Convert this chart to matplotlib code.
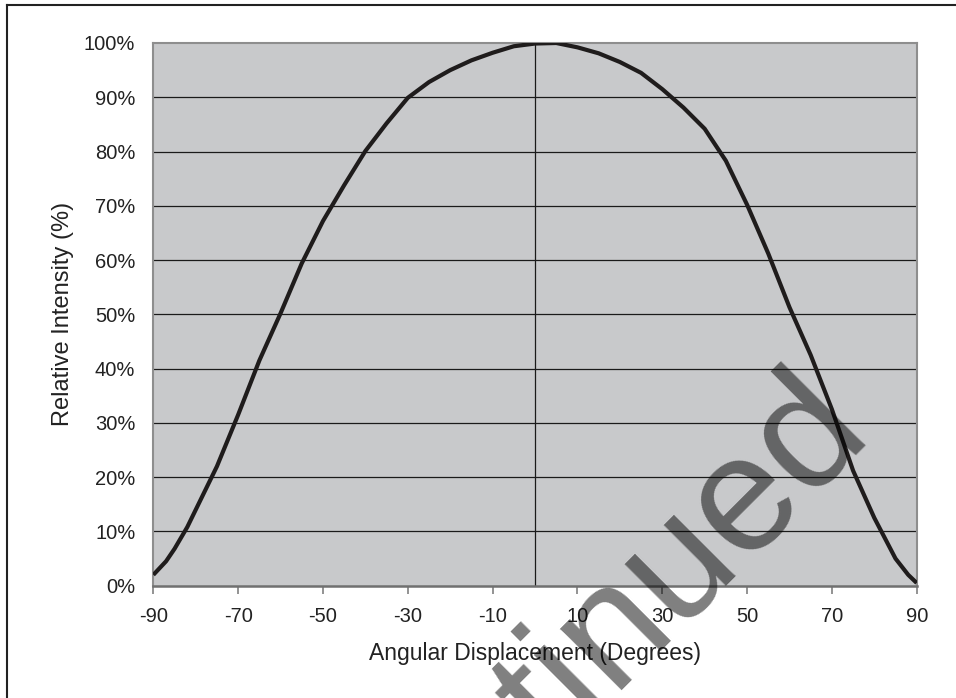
import matplotlib
matplotlib.use("Agg")
import matplotlib.pyplot as plt
from matplotlib.lines import Line2D

plt.rcParams['font.family'] = ['Liberation Sans', 'DejaVu Sans']

# angle (degrees) and relative intensity (%)
angle = [-90, -87, -85, -82, -80, -75, -70, -65, -60, -55, -50, -45, -40, -35,
         -30, -25, -20, -15, -10, -5, 0, 5, 10, 15, 20, 25, 30, 35, 40, 45,
         50, 55, 60, 65, 70, 75, 80, 85, 88, 90]
intensity = [2.0, 4.5, 6.8, 10.8, 14.0, 22.0, 31.5, 41.5, 50.2, 59.4, 67.2, 73.8,
             80.1, 85.2, 89.9, 92.8, 95.0, 96.8, 98.2, 99.4, 99.9, 100.0, 99.2,
             98.1, 96.5, 94.5, 91.5, 88.1, 84.2, 78.3, 70.2, 61.2, 51.3, 42.5,
             32.5, 21.2, 12.5, 5.0, 2.0, 0.5]

xticks = [-90, -70, -50, -30, -10, 10, 30, 50, 70, 90]
yticks = [0, 10, 20, 30, 40, 50, 60, 70, 80, 90, 100]
ytick_labels = ['%d%%' % v for v in yticks]

fig = plt.figure(figsize=(9.56, 6.98), dpi=100)
ax = fig.add_axes([0.1604, 0.1609, 0.7985, 0.7775])
ax.set_facecolor('#c8c9cb')

for v in yticks[1:-1]:
    ax.axhline(v, color='#1a1a1a', lw=0.9, zorder=1)
ax.axvline(0, color='#1a1a1a', lw=0.9, zorder=1)

ax.plot(angle, intensity, color='#1f1c1c', lw=3.0, zorder=3, solid_capstyle='butt')

ax.set_xlim(-90, 90)
ax.set_ylim(0, 100)
ax.set_xticks(xticks)
ax.set_xticklabels([str(v) for v in xticks])
ax.set_yticks(yticks)
ax.set_yticklabels(ytick_labels)
ax.tick_params(axis='x', length=6, width=1.2, color='#808080', pad=9,
               labelsize=14.5, labelcolor='#222222')
ax.tick_params(axis='y', length=0, pad=13, labelsize=14.5, labelcolor='#222222')

for side in ['top', 'right', 'left']:
    ax.spines[side].set_color('#8e8e8e')
    ax.spines[side].set_linewidth(1.5)
ax.spines['bottom'].set_color('#707070')
ax.spines['bottom'].set_linewidth(1.8)

ax.set_xlabel('Angular Displacement (Degrees)', fontsize=16.5, color='#222222', labelpad=12)
ax.set_ylabel('Relative Intensity (%)', fontsize=17, color='#222222', labelpad=7)

# outer frame (top and left edges visible)
fig.add_artist(Line2D([0.0073, 1.0], [0.9928, 0.9928], transform=fig.transFigure,
                      color='#222222', lw=1.5))
fig.add_artist(Line2D([0.0073, 0.0073], [0.9928, 0.0], transform=fig.transFigure,
                      color='#222222', lw=1.5))

# watermark
fig.text(0.204, -0.5817, 'Discontinued', rotation=45, rotation_mode='anchor',
         ha='left', va='baseline', fontsize=119, color='black', alpha=0.5,
         transform=fig.transFigure)

fig.savefig('out.png', dpi=100)
